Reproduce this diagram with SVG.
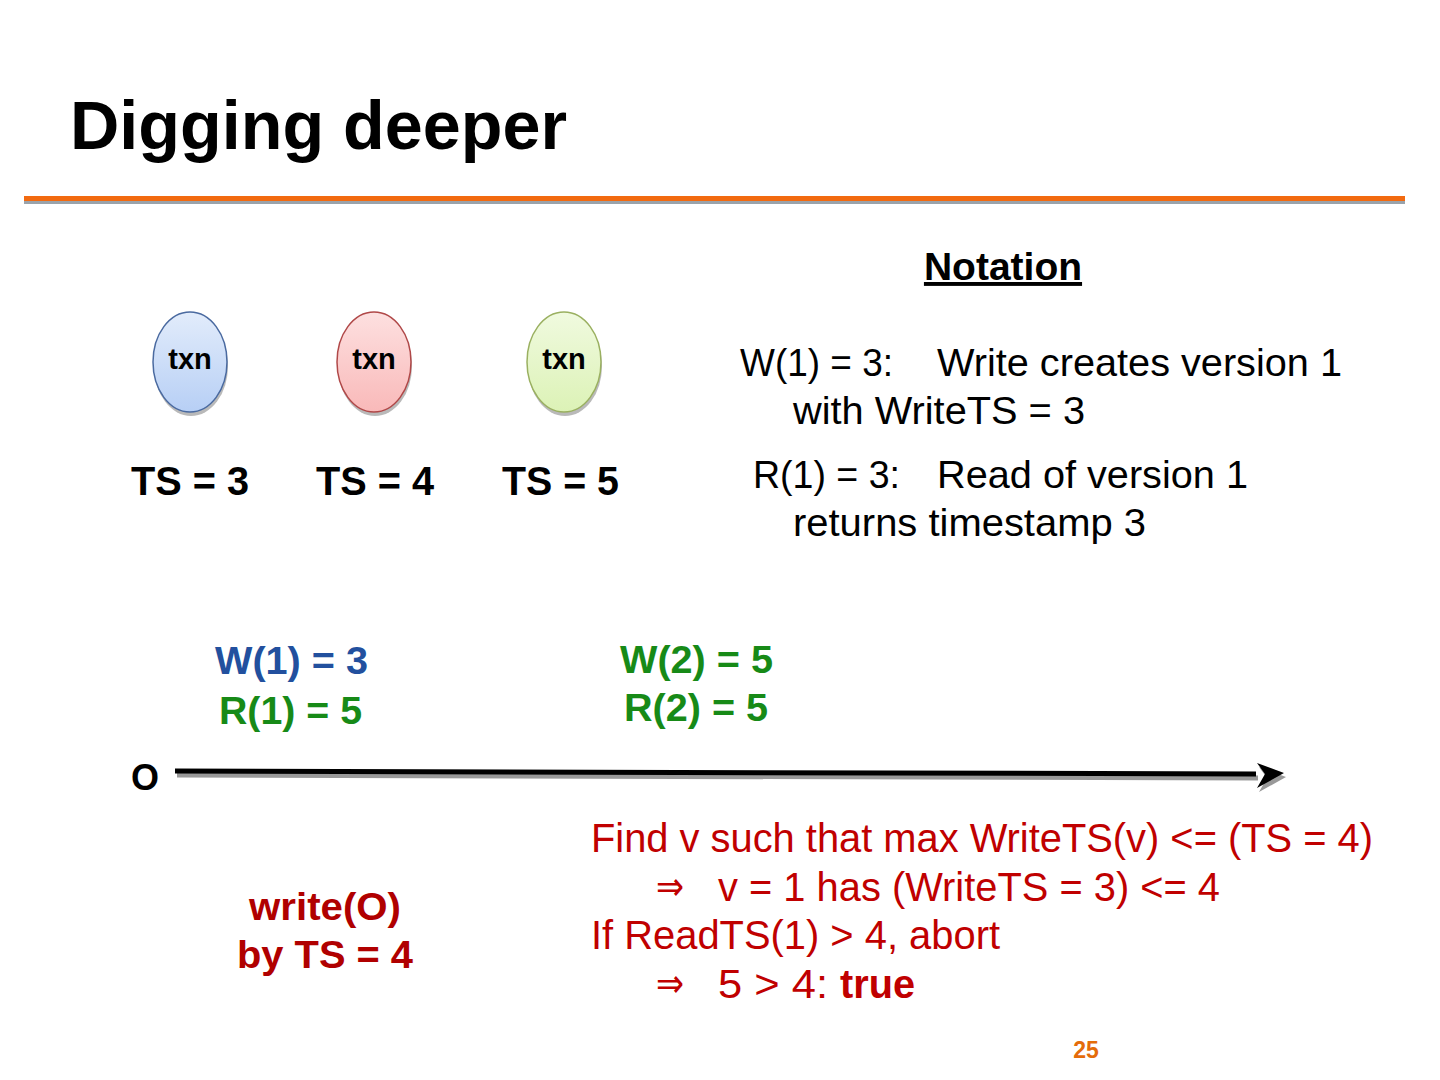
<svg xmlns="http://www.w3.org/2000/svg" width="1440" height="1080" viewBox="0 0 1440 1080">
<style>
text{font-family:"Liberation Sans",Arial,sans-serif}
.b{font-weight:bold}
.note{font-size:39px;fill:#000}
.red{font-size:40px;fill:#c00000}
.arr{font-family:"DejaVu Sans",sans-serif;font-size:40px;fill:#c00000}
.ts{font-size:40px;font-weight:bold;fill:#000}
.txn{font-size:29px;font-weight:bold;fill:#000;text-anchor:middle}
</style>
<defs>
<linearGradient id="gb" x1="0" y1="0" x2="0" y2="1"><stop offset="0" stop-color="#e2ecfb"/><stop offset="1" stop-color="#b7cff5"/></linearGradient>
<linearGradient id="gr" x1="0" y1="0" x2="0" y2="1"><stop offset="0" stop-color="#fde0e0"/><stop offset="1" stop-color="#f9b9b9"/></linearGradient>
<linearGradient id="gg" x1="0" y1="0" x2="0" y2="1"><stop offset="0" stop-color="#f0fadf"/><stop offset="1" stop-color="#dcf2b6"/></linearGradient>
</defs>
<rect width="1440" height="1080" fill="#fff"/>
<text x="70" y="149" class="b" font-size="68" textLength="497" lengthAdjust="spacingAndGlyphs" fill="#000">Digging deeper</text>
<rect x="24" y="196" width="1381" height="5" fill="#f26a10"/>
<rect x="24" y="201" width="1381" height="3" fill="#9aa3ab"/>
<text x="1003" y="280" class="b" font-size="39" text-anchor="middle" text-decoration="underline">Notation</text>
<g id="node-txn1">
<ellipse cx="191" cy="366" rx="37" ry="50" fill="#8a8a8a" opacity="0.6"/>
<ellipse cx="190" cy="362" rx="37" ry="50" fill="url(#gb)" stroke="#4a6aa0" stroke-width="1.5"/>
<text x="190" y="369" class="txn">txn</text>
</g>
<g id="node-txn2">
<ellipse cx="375" cy="366" rx="37" ry="50" fill="#8a8a8a" opacity="0.6"/>
<ellipse cx="374" cy="362" rx="37" ry="50" fill="url(#gr)" stroke="#b04848" stroke-width="1.5"/>
<text x="374" y="369" class="txn">txn</text>
</g>
<g id="node-txn3">
<ellipse cx="565" cy="366" rx="37" ry="50" fill="#8a8a8a" opacity="0.6"/>
<ellipse cx="564" cy="362" rx="37" ry="50" fill="url(#gg)" stroke="#9ab060" stroke-width="1.5"/>
<text x="564" y="369" class="txn">txn</text>
</g>
<text x="131" y="495" class="ts" textLength="118" lengthAdjust="spacingAndGlyphs">TS = 3</text>
<text x="316" y="495" class="ts" textLength="118" lengthAdjust="spacingAndGlyphs">TS = 4</text>
<text x="502" y="495" class="ts" textLength="117" lengthAdjust="spacingAndGlyphs">TS = 5</text>
<text x="740" y="376" class="note" textLength="153" lengthAdjust="spacingAndGlyphs">W(1) = 3:</text>
<text x="937" y="376" class="note" textLength="405" lengthAdjust="spacingAndGlyphs">Write creates version 1</text>
<text x="793" y="424" class="note" textLength="292" lengthAdjust="spacingAndGlyphs">with WriteTS = 3</text>
<text x="753" y="488" class="note" textLength="147" lengthAdjust="spacingAndGlyphs">R(1) = 3:</text>
<text x="937" y="488" class="note" textLength="311" lengthAdjust="spacingAndGlyphs">Read of version 1</text>
<text x="793" y="536" class="note" textLength="353" lengthAdjust="spacingAndGlyphs">returns timestamp 3</text>
<text x="215" y="674" class="b" font-size="39" fill="#22509e" textLength="153" lengthAdjust="spacingAndGlyphs">W(1) = 3</text>
<text x="219" y="724" class="b" font-size="39" fill="#178a17" textLength="143" lengthAdjust="spacingAndGlyphs">R(1) = 5</text>
<text x="620" y="673" class="b" font-size="39" fill="#178a17" textLength="153" lengthAdjust="spacingAndGlyphs">W(2) = 5</text>
<text x="624" y="721" class="b" font-size="39" fill="#178a17" textLength="144" lengthAdjust="spacingAndGlyphs">R(2) = 5</text>
<text x="131" y="790" class="b" font-size="36" fill="#000">O</text>
<g id="connectors">
<line x1="177" y1="775" x2="1258" y2="778" stroke="#999" stroke-width="5"/>
<path d="M1259 767 L1286 777 L1259 792 L1267 778 Z" fill="#999"/>
<line x1="175" y1="771" x2="1256" y2="774" stroke="#000" stroke-width="5"/>
<path d="M1257 763 L1284 773 L1257 788 L1265 774 Z" fill="#000"/>
</g>
<text x="591" y="852" class="red" textLength="782" lengthAdjust="spacingAndGlyphs">Find v such that max WriteTS(v) &lt;= (TS = 4)</text>
<text x="656" y="900" class="arr" textLength="28" lengthAdjust="spacingAndGlyphs">⇒</text>
<text x="718" y="901" class="red" textLength="502" lengthAdjust="spacingAndGlyphs">v = 1 has (WriteTS = 3) &lt;= 4</text>
<text x="591" y="949" class="red" textLength="409" lengthAdjust="spacingAndGlyphs">If ReadTS(1) &gt; 4, abort</text>
<text x="656" y="997" class="arr" textLength="28" lengthAdjust="spacingAndGlyphs">⇒</text>
<text x="718" y="998" class="red" textLength="110" lengthAdjust="spacingAndGlyphs">5 &gt; 4:</text>
<text x="840" y="998" class="red b" textLength="75" lengthAdjust="spacingAndGlyphs">true</text>
<text x="325" y="920" class="b" font-size="39" fill="#b00000" text-anchor="middle" textLength="152" lengthAdjust="spacingAndGlyphs">write(O)</text>
<text x="325" y="968" class="b" font-size="39" fill="#b00000" text-anchor="middle" textLength="176" lengthAdjust="spacingAndGlyphs">by TS = 4</text>
<text x="1086" y="1058" class="b" font-size="23" fill="#e46c0a" text-anchor="middle">25</text>
</svg>
